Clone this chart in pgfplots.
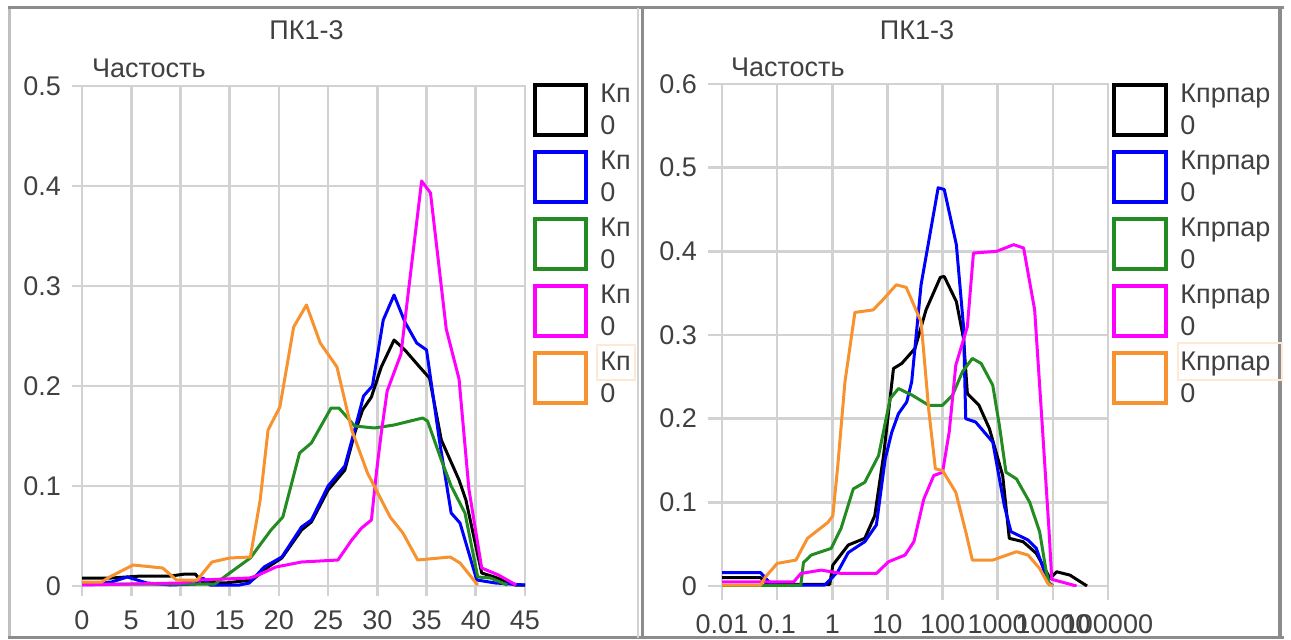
\documentclass[border=0pt]{standalone}
\usepackage{fontspec}
\setmainfont{Liberation Sans}
\usepackage{pgfplots}
\pgfplotsset{compat=1.18}
\definecolor{cblack}{HTML}{000000}
\definecolor{cblue}{HTML}{0000FF}
\definecolor{cgreen}{HTML}{228B22}
\definecolor{cmag}{HTML}{FF00FF}
\definecolor{corange}{HTML}{F7922E}
\definecolor{gridc}{HTML}{D2D2D2}
\definecolor{txt}{HTML}{404040}
\newcommand{\fnt}{\fontsize{13.5}{16}\selectfont}
\pgfplotsset{
  panel/.style={
    scale only axis,
    axis line style={gridc, line width=1.3pt},
    grid=major,
    major grid style={gridc, line width=1.3pt},
    tick style={gridc, line width=1.3pt},
    tick align=outside,
    xtick pos=lower, ytick pos=left,
    ticklabel style={font=\fnt, text=txt},
    every axis plot/.append style={line width=1.5pt, line join=round, mark=none},
    every axis title/.style={font=\fnt, text=txt, anchor=center, at={(0.5,1)}},
    every axis y label/.style={at={(0,1)}, anchor=west, font=\fnt, text=txt},
  }
}
\begin{document}
\begin{tikzpicture}
\path[use as bounding box] (0,0) rectangle (645.5pt,319.5pt);
% panel frames
\draw[color=black!25, line width=1.5pt] (4.75pt,0.5pt) -- (4.75pt,315.5pt);
\draw[color=black!45, line width=1.5pt] (4pt,315.5pt) -- (642pt,315.5pt);
\draw[color=black!45, line width=1.5pt] (4pt,0.75pt) -- (642pt,0.75pt);
\draw[color=black!18, line width=1.2pt] (319pt,0.5pt) -- (319pt,315.5pt);
\draw[color=black!45, line width=1.5pt] (321pt,0.5pt) -- (321pt,316pt);
\draw[color=black!45, line width=1.8pt] (640pt,0.5pt) -- (640pt,316pt);

% ---------------- left panel ----------------
\begin{axis}[panel,
  at={(41pt,26.5pt)}, anchor=south west,
  width=221.5pt, height=250pt,
  xmin=0, xmax=45, ymin=0, ymax=0.5,
  xtick={0,5,10,15,20,25,30,35,40,45},
  xticklabels={0,5,10,15,20,25,30,35,40,45},
  ytick={0,0.1,0.2,0.3,0.4,0.5},
  yticklabels={0,0.1,0.2,0.3,0.4,0.5},
  major tick length=5pt,
  xticklabel style={yshift=-4pt},
  yticklabel style={xshift=-2pt},
  title={ПК1-3}, title style={yshift=28pt, xshift=1.5pt},
  ylabel={Частость}, ylabel style={xshift=1.5pt, yshift=9pt},
]
\addplot[cblack] coordinates {(0,0.008)(1.5,0.008)(3,0.008)(4.5,0.009)(6,0.01)(7.5,0.01)(9,0.01)(10.5,0.012)(11.5,0.012)(12.2,0.004)(14.5,0.003)(17.3,0.006)(18.9,0.019)(20.3,0.028)(22.3,0.056)(23.3,0.064)(25,0.096)(26.7,0.116)(27.7,0.153)(28.5,0.176)(29.4,0.189)(30.4,0.219)(31.7,0.246)(32.8,0.236)(34.3,0.219)(35.3,0.208)(36.5,0.146)(38.3,0.106)(39,0.086)(40.6,0.013)(41.9,0.009)(44,0.001)(45,0.001)};
\addplot[cblue] coordinates {(0,0.002)(3,0.004)(4.6,0.009)(6.6,0.003)(9,0.001)(11.5,0.002)(12.3,0.008)(13,0.001)(16,0.001)(17,0.003)(18.5,0.019)(20.3,0.029)(22.3,0.059)(23.3,0.066)(25,0.1)(26.7,0.12)(27.7,0.156)(28.6,0.19)(29.5,0.2)(30.6,0.266)(31.7,0.291)(32.8,0.264)(34,0.243)(35,0.236)(36.3,0.146)(37.5,0.073)(38.4,0.063)(40.1,0.006)(42,0.003)(45,0.001)};
\addplot[cgreen] coordinates {(0,0.002)(6,0.002)(10,0.002)(13.5,0.002)(15,0.013)(17.1,0.028)(19.2,0.056)(20.4,0.069)(22.1,0.133)(23.3,0.143)(25.3,0.178)(26.1,0.178)(27.7,0.16)(29.7,0.158)(31.7,0.161)(34.6,0.168)(35.1,0.165)(36.5,0.126)(37.5,0.1)(38.9,0.073)(40.2,0.009)(41.5,0.008)(43.2,0.001)};
\addplot[cmag] coordinates {(0,0.001)(5,0.002)(10,0.003)(12,0.006)(17,0.008)(17.7,0.01)(19.7,0.019)(22.3,0.024)(26,0.026)(27.4,0.046)(28.4,0.058)(29.4,0.066)(29.9,0.113)(30.4,0.153)(31,0.195)(32.4,0.232)(33.5,0.323)(34.5,0.405)(35.4,0.393)(37,0.257)(38.3,0.207)(39.3,0.097)(40.6,0.018)(42.3,0.011)(44.1,0.001)};
\addplot[corange] coordinates {(0,0.004)(2,0.004)(2.8,0.009)(5.2,0.021)(8.2,0.018)(9.6,0.006)(11.7,0.006)(13.2,0.024)(15,0.028)(17.1,0.029)(18.1,0.086)(18.9,0.156)(20.1,0.179)(21.5,0.259)(22.8,0.281)(24.2,0.243)(25.9,0.219)(27.4,0.156)(29,0.113)(31.3,0.069)(32.6,0.053)(34.1,0.026)(37.4,0.029)(38.4,0.023)(40.2,0.001)};
\end{axis}

% ---------------- right panel ----------------
\begin{axis}[panel,
  at={(361pt,26.5pt)}, anchor=south west,
  width=193pt, height=251pt,
  xmode=log, xmin=0.01, xmax=100000, ymin=0, ymax=0.6,
  xminorticks=false,
  xtick={0.01,0.1,1,10,100,1000,10000,100000},
  xticklabels={0.01,0.1,1,10,100,1000,10000,100000},
  ytick={0,0.1,0.2,0.3,0.4,0.5,0.6},
  yticklabels={0,0.1,0.2,0.3,0.4,0.5,0.6},
  major tick length=7pt,
  xticklabel style={yshift=-4pt},
  yticklabel style={xshift=-2pt},
  title={ПК1-3}, title style={yshift=27pt, xshift=1pt},
  ylabel={Частость}, ylabel style={xshift=1pt, yshift=8.5pt},
]
\addplot[cblack] coordinates {(0.01,0.01)(0.0501,0.01)(0.0617,0.004)(0.1,0.002)(0.9,0.002)(1.023,0.025)(1.95,0.049)(3.89,0.057)(5.888,0.084)(8.511,0.156)(12.88,0.26)(18.2,0.266)(31.62,0.284)(50.1,0.33)(91.2,0.369)(107.2,0.37)(177.8,0.34)(239.9,0.296)(281.8,0.23)(457.1,0.216)(707.9,0.188)(1230,0.132)(1622,0.057)(2884,0.053)(5012,0.039)(8913,0.009)(11750,0.017)(20420,0.013)(41690,0)};
\addplot[cblue] coordinates {(0.01,0.016)(0.0501,0.016)(0.0708,0.005)(0.1,0.001)(0.724,0.001)(1.259,0.017)(1.95,0.04)(3.89,0.053)(6.31,0.073)(9.12,0.152)(12.02,0.184)(15.85,0.206)(22.39,0.22)(27.54,0.244)(40.74,0.36)(83.18,0.476)(107.2,0.474)(177.8,0.408)(239.9,0.31)(263,0.2)(398.1,0.196)(812.8,0.172)(1318,0.096)(1738,0.065)(3548,0.055)(5012,0.045)(8128,0.005)(10000,0)};
\addplot[cgreen] coordinates {(0.01,0)(0.269,0.001)(0.3,0.028)(0.417,0.037)(0.955,0.045)(1.445,0.069)(2.399,0.116)(3.89,0.124)(6.918,0.156)(11.22,0.224)(15.85,0.236)(28.18,0.228)(56.23,0.216)(100,0.216)(151.4,0.228)(229.1,0.256)(346.7,0.272)(501.2,0.266)(812.8,0.24)(1072,0.192)(1413,0.136)(2188,0.128)(3802,0.1)(5754,0.065)(7586,0.017)(8913,0)};
\addplot[cmag] coordinates {(0.01,0.005)(0.2,0.005)(0.269,0.015)(0.631,0.019)(1.445,0.015)(6.31,0.015)(10.47,0.029)(20.89,0.037)(30.2,0.053)(45.71,0.104)(69.18,0.132)(100,0.136)(131.8,0.184)(173.8,0.264)(281.8,0.31)(363.1,0.398)(955,0.4)(1950,0.408)(2951,0.404)(4677,0.33)(6310,0.2)(8511,0.067)(9550,0.008)(26920,0)};
\addplot[corange] coordinates {(0.01,0.001)(0.0501,0.001)(0.0617,0.011)(0.1,0.027)(0.219,0.031)(0.355,0.057)(0.832,0.076)(1.023,0.084)(1.259,0.144)(1.698,0.244)(2.57,0.327)(5.495,0.33)(8.511,0.343)(14.45,0.36)(21.88,0.357)(40.74,0.316)(56.23,0.21)(74.13,0.14)(100,0.138)(173.8,0.112)(263,0.065)(346.7,0.031)(812.8,0.031)(2188,0.041)(3548,0.037)(5754,0.021)(8128,0.003)(10000,0)};
\end{axis}

% ---------------- legends ----------------
\foreach \c [count=\i from 0] in {cblack,cblue,cgreen,cmag,corange}{
  \draw[\c, line width=2pt] (267.5pt,{277pt-33.5pt*\i}) rectangle (293pt,{252pt-33.5pt*\i});
  \node[anchor=west, inner sep=0pt, align=left, font=\fnt, text=txt] at (300pt,{265pt-33.5pt*\i}) {Кп\\0};
  \draw[\c, line width=2pt] (557pt,{277pt-33.5pt*\i}) rectangle (583pt,{252pt-33.5pt*\i});
  \node[anchor=west, inner sep=0pt, align=left, font=\fnt, text=txt] at (590pt,{265pt-33.5pt*\i}) {Кпрпар\\0};
}
\draw[corange!20, line width=0.8pt] (298.5pt,129.5pt) rectangle (317.5pt,147pt);
\draw[corange!20, line width=0.8pt] (589pt,129.5pt) rectangle (641pt,148pt);
\end{tikzpicture}
\end{document}
